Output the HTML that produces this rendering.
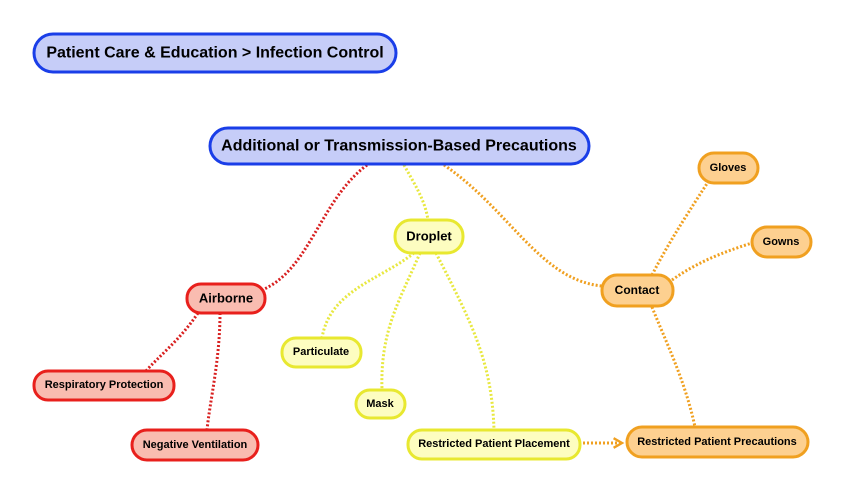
<!DOCTYPE html>
<html><head><meta charset="utf-8"><style>
html,body{margin:0;padding:0;background:#fff}
svg{display:block}
text{font-family:"Liberation Sans",Arial,sans-serif;font-weight:bold;fill:#000;text-anchor:middle;dominant-baseline:central}
.c{fill:none;stroke-width:3;stroke-dasharray:2 2}
</style></head><body>
<svg width="844" height="493" viewBox="0 0 844 493">
<defs>
<marker id="ar" viewBox="0 0 10 10" refX="8" refY="5" markerWidth="4" markerHeight="4" orient="auto">
<path d="M1,1 L8,5 L1,9" fill="none" stroke="#f0a020" stroke-width="2"/>
</marker>
</defs>
<path class="c" stroke="#d82020" d="M367,165 C320,200 310,270 262,290"/>
<path class="c" stroke="#d82020" d="M198,313 C180,340 160,355 145,372"/>
<path class="c" stroke="#d82020" d="M220,313 C220,360 210,400 207,430"/>
<path class="c" stroke="#e8e840" d="M404,165 C415,185 425,200 428,220"/>
<path class="c" stroke="#e8e840" d="M414,253 C380,280 330,290 322,338"/>
<path class="c" stroke="#e8e840" d="M420,253 C400,300 380,330 382,390"/>
<path class="c" stroke="#e8e840" d="M436,253 C470,320 492,360 494,430"/>
<path class="c" stroke="#f0a020" d="M444,165 C510,210 540,280 602,286"/>
<path class="c" stroke="#f0a020" d="M652,275 C670,240 690,210 708,182"/>
<path class="c" stroke="#f0a020" d="M672,280 C700,260 730,250 752,243"/>
<path class="c" stroke="#f0a020" d="M652,307 C665,340 685,380 695,427"/>
<path class="c" stroke="#f0a020" d="M583,443 L622,443" marker-end="url(#ar)"/>
<g stroke-width="3">
<rect x="34" y="34" width="362" height="38" rx="19" fill="#c6cdf8" stroke="#1a3ee8"/>
<rect x="210" y="128" width="379" height="36" rx="18" fill="#c6cdf8" stroke="#1a3ee8"/>
<rect x="395" y="220" width="68" height="33" rx="16" fill="#fdfdc0" stroke="#e8e830"/>
<rect x="187" y="284" width="78" height="29" rx="14" fill="#f9bcb0" stroke="#e8201c"/>
<rect x="602" y="275" width="71" height="31" rx="15" fill="#fdd090" stroke="#f0a020"/>
<rect x="699" y="153" width="59" height="30" rx="15" fill="#fdd090" stroke="#f0a020"/>
<rect x="752" y="227" width="59" height="30" rx="15" fill="#fdd090" stroke="#f0a020"/>
<rect x="282" y="338" width="79" height="29" rx="14" fill="#fdfdc0" stroke="#e8e830"/>
<rect x="356" y="390" width="49" height="28" rx="14" fill="#fdfdc0" stroke="#e8e830"/>
<rect x="34" y="371" width="140" height="29" rx="14" fill="#f9bcb0" stroke="#e8201c"/>
<rect x="132" y="430" width="126" height="30" rx="15" fill="#f9bcb0" stroke="#e8201c"/>
<rect x="408" y="430" width="172" height="29" rx="14" fill="#fdfdc0" stroke="#e8e830"/>
<rect x="627" y="427" width="181" height="30" rx="15" fill="#fdd090" stroke="#f0a020"/>
</g>
<text x="215" y="53" font-size="16">Patient Care &amp; Education &gt; Infection Control</text>
<text x="399" y="146" font-size="16">Additional or Transmission-Based Precautions</text>
<text x="429" y="236" font-size="13">Droplet</text>
<text x="226" y="298" font-size="13">Airborne</text>
<text x="637" y="290" font-size="12">Contact</text>
<text x="728" y="168" font-size="11">Gloves</text>
<text x="781" y="242" font-size="11">Gowns</text>
<text x="321" y="352" font-size="11">Particulate</text>
<text x="380" y="404" font-size="11">Mask</text>
<text x="104" y="385" font-size="11">Respiratory Protection</text>
<text x="195" y="445" font-size="11">Negative Ventilation</text>
<text x="494" y="444" font-size="11">Restricted Patient Placement</text>
<text x="717" y="442" font-size="11">Restricted Patient Precautions</text>
</svg>
</body></html>
